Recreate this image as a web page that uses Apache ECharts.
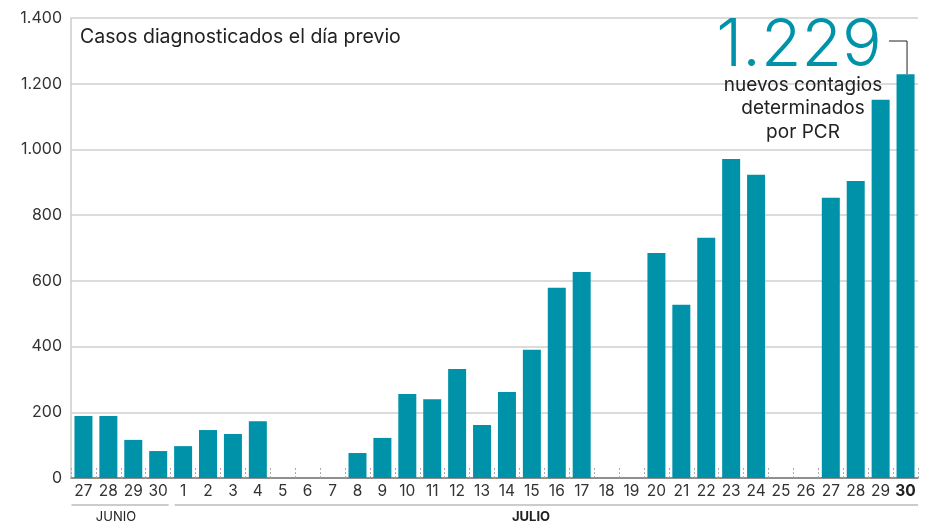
<!DOCTYPE html>
<html>
<head>
<meta charset="utf-8">
<script src="https://cdn.jsdelivr.net/npm/echarts@6/dist/echarts.min.js"></script>
<style>
  html, body { margin: 0; padding: 0; background: #fff; }
  #chart { width: 936px; height: 523px; }
</style>
</head>
<body>
<div id="chart"></div>
<script>
// días: 27-30 de junio y 1-30 de julio
const days = ['27', '28', '29', '30',
  '1', '2', '3', '4', '5', '6', '7', '8', '9', '10', '11', '12', '13', '14', '15',
  '16', '17', '18', '19', '20', '21', '22', '23', '24', '25', '26', '27', '28', '29', '30']
const cases = [189, 189, 116, 82,
  97, 146, 134, 173, 0, 0, 0, 76, 122, 256, 240, 332, 161, 262, 390,
  579, 627, 0, 0, 685, 527, 731, 971, 923, 0, 0, 853, 904, 1151, 1229]
const yTicks = [0, 200, 400, 600, 800, 1000, 1200, 1400]
const months = ['JUNIO', 'JULIO']

const teal = '#0092a9'
const font = 'Inter, "Noto Sans", sans-serif'
const last = days.length - 1

const chart = echarts.init(document.getElementById('chart'))

function fmt(v) {
  return String(v).replace(/\B(?=(\d{3})+(?!\d))/g, '.')
}

chart.setOption({
  animation: false,
  textStyle: { fontFamily: font },
  grid: { left: 71, right: 18, top: 18, bottom: 45 },
  xAxis: {
    type: 'category',
    data: days,
    axisLine: { lineStyle: { color: '#777', width: 1.5 } },
    axisTick: { show: true, interval: 0, inside: true, length: 12, lineStyle: { color: '#aaa', type: [2, 2] } },
    axisLabel: {
      interval: 0,
      color: '#333', fontSize: 15.5, margin: 5, fontFamily: font,
      formatter: (v, i) => i === last ? '{b|' + v + '}' : v,
      rich: { b: { fontWeight: 'bold', fontSize: 15.5, color: '#222', fontFamily: font } },
    },
  },
  yAxis: {
    type: 'value',
    min: yTicks[0],
    max: yTicks[yTicks.length - 1],
    interval: 200,
    axisLine: { show: true, lineStyle: { color: '#ccc', width: 1.5 } },
    axisTick: { show: false },
    splitLine: { lineStyle: { color: '#cfcfcf', width: 1.5 } },
    axisLabel: { color: '#333', fontSize: 16, margin: 9, formatter: fmt },
  },
  series: [{
    type: 'bar',
    data: cases,
    barWidth: 18,
    itemStyle: { color: teal },
  }],
})

// etiquetas de mes, título y anotación
const firstPt = chart.convertToPixel({ seriesIndex: 0 }, [0, 0])
const julyPt = chart.convertToPixel({ seriesIndex: 0 }, [4, 0])
const endPt = chart.convertToPixel({ seriesIndex: 0 }, [last, 0])
const barTop = chart.convertToPixel({ seriesIndex: 0 }, [last, cases[last]])
const half = (julyPt[0] - firstPt[0]) / 8

chart.setOption({
  graphic: [
    { type: 'line', shape: { x1: firstPt[0] - half + 0.5, y1: 505, x2: julyPt[0] - half - 2, y2: 505 }, style: { stroke: '#bbb', lineWidth: 1.5 } },
    { type: 'line', shape: { x1: julyPt[0] - half + 4, y1: 505, x2: endPt[0] + half, y2: 505 }, style: { stroke: '#bbb', lineWidth: 1.5 } },
    { type: 'text', x: 116, y: 517, style: { text: months[0], fill: '#222', font: '13px ' + font, textAlign: 'center', textVerticalAlign: 'middle' } },
    { type: 'text', x: 531, y: 517, style: { text: months[1], fill: '#222', font: 'bold 13px ' + font, textAlign: 'center', textVerticalAlign: 'middle' } },
    { type: 'text', x: 80, y: 37, style: { text: 'Casos diagnosticados el día previo', fill: '#222', font: '19.5px ' + font, textVerticalAlign: 'middle' } },
    { type: 'text', x: 799, y: 46, style: { text: fmt(cases[last]), fill: teal, font: '300 66px ' + font, textAlign: 'center', textVerticalAlign: 'middle' } },
    { type: 'text', x: 803, y: 85, style: { text: 'nuevos contagios', fill: '#222', font: '19px ' + font, textAlign: 'center', textVerticalAlign: 'middle' } },
    { type: 'text', x: 803, y: 108, style: { text: 'determinados', fill: '#222', font: '19px ' + font, textAlign: 'center', textVerticalAlign: 'middle' } },
    { type: 'text', x: 803, y: 132, style: { text: 'por PCR', fill: '#222', font: '19px ' + font, textAlign: 'center', textVerticalAlign: 'middle' } },
    { type: 'polyline', shape: { points: [[889, 41], [barTop[0] + 1.5, 41], [barTop[0] + 1.5, barTop[1]]] }, style: { stroke: '#222', lineWidth: 1, fill: null } },
  ],
})
</script>
</body>
</html>
